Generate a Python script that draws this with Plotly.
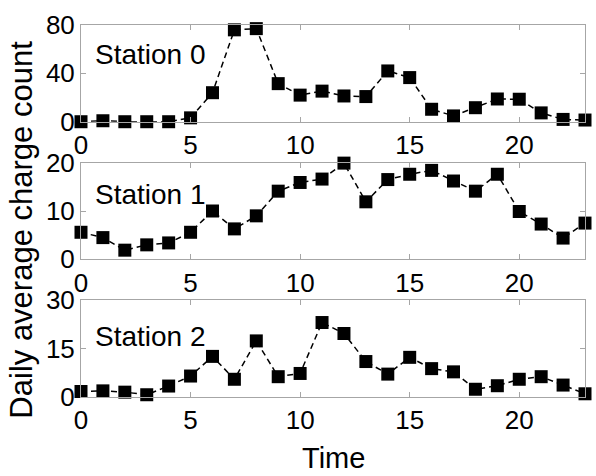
import plotly.graph_objects as go

hours = list(range(24))
station0 = [0, 0.8, 0, 0, 0, 3.2, 24, 76, 77, 31.5, 22, 25.3, 21.3, 20.8, 42, 36.5,
            10.3, 4.8, 11.6, 18.8, 18.6, 7.3, 1.9, 1.4]
station1 = [5.6, 4.5, 1.9, 3.0, 3.4, 5.6, 10.0, 6.3, 9.0, 14.1, 15.9, 16.6, 19.9, 11.9,
            16.5, 17.6, 18.4, 16.2, 14.1, 17.6, 9.9, 7.3, 4.4, 7.5]
station2 = [1.7, 1.9, 1.5, 0.7, 3.4, 6.5, 12.6, 5.5, 17.4, 6.3, 7.3, 23.1, 19.7, 11.0,
            7.1, 12.3, 8.8, 7.8, 2.4, 3.5, 5.5, 6.3, 3.7, 1.0]
series = [station0, station1, station2]
labels = ["Station 0", "Station 1", "Station 2"]
yranges = [[0, 80], [0, 20], [0, 30]]
yticks = [[0, 40, 80], [0, 10, 20], [0, 15, 30]]
xticks = [0, 5, 10, 15, 20]
domains = [[0.740, 1.0], [0.370, 0.630], [0.0, 0.260]]
label_y = [0.69, 0.67, 0.63]

FONT = "Liberation Sans, Arial, Helvetica, sans-serif"
AX = "#a6a6a6"

fig = go.Figure()
layout = dict(
    width=596, height=476,
    margin=dict(l=81, r=10, t=16, b=79),
    paper_bgcolor="white", plot_bgcolor="white",
    showlegend=False,
    font=dict(family=FONT, size=26, color="black"),
    annotations=[],
)
for i, (vals, lab) in enumerate(zip(series, labels)):
    n = "" if i == 0 else str(i + 1)
    fig.add_trace(go.Scatter(
        x=hours, y=vals, mode="lines+markers",
        xaxis="x" + n, yaxis="y" + n,
        line=dict(color="black", width=1.5, dash="6px,4px"),
        marker=dict(symbol="square", size=13, color="black"),
        cliponaxis=False,
    ))
    layout["xaxis" + n] = dict(
        domain=[0, 1], anchor="y" + n, range=[0, 23],
        tickvals=xticks, ticks="inside", ticklen=5, tickcolor=AX,
        showline=True, linecolor=AX, linewidth=1, mirror="ticks",
        showgrid=False, zeroline=False,
        tickfont=dict(size=26, color="black"),
    )
    layout["yaxis" + n] = dict(
        domain=domains[i], anchor="x" + n, range=yranges[i],
        tickvals=yticks[i], ticks="inside", ticklen=5, tickcolor=AX,
        showline=True, linecolor=AX, linewidth=1, mirror="ticks",
        showgrid=False, zeroline=False,
        tickfont=dict(size=26, color="black"),
    )
    layout["annotations"].append(dict(
        text=lab, xref="x" + n + " domain", yref="y" + n + " domain",
        x=0.024, y=label_y[i], xanchor="left", yanchor="middle",
        showarrow=False, font=dict(size=28, color="black"),
    ))

layout["annotations"].append(dict(
    text="Daily average charge count", xref="paper", yref="paper",
    x=-0.117, y=0.45, xanchor="center", yanchor="middle", textangle=-90,
    showarrow=False, font=dict(size=31, color="black"),
))
layout["annotations"].append(dict(
    text="Time", xref="paper", yref="paper",
    x=0.5, y=-0.165, xanchor="center", yanchor="middle",
    showarrow=False, font=dict(size=29, color="black"),
))
fig.update_layout(**layout)
fig.write_html("out.html")
